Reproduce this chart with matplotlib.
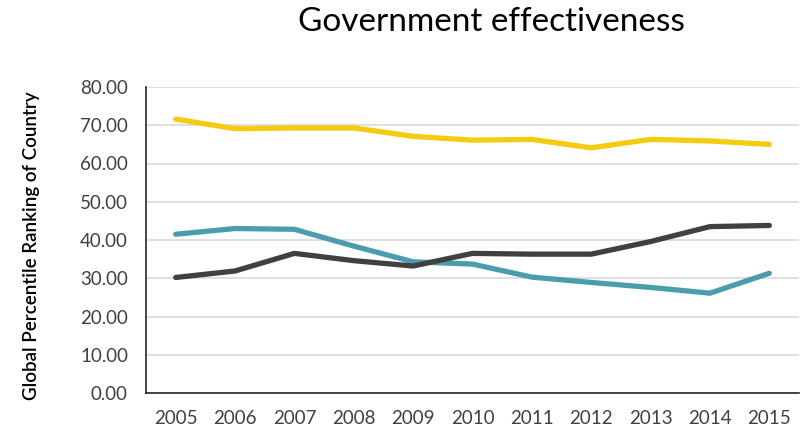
"""Government effectiveness percentile ranking, 2005-2015."""

import matplotlib.pyplot as plt

years = ["2005", "2006", "2007", "2008", "2009", "2010",
         "2011", "2012", "2013", "2014", "2015"]

# three countries
yellow_series = [71.6, 69.1, 69.3, 69.3, 67.1, 66.1, 66.3, 64.1, 66.3, 65.9, 65.0]
teal_series = [41.5, 43.0, 42.8, 38.4, 34.3, 33.7, 30.3, 28.9, 27.6, 26.1, 31.3]
dark_series = [30.2, 31.9, 36.5, 34.6, 33.2, 36.5, 36.3, 36.3, 39.6, 43.5, 43.8]

y_ticks = [0, 10, 20, 30, 40, 50, 60, 70, 80]

plt.rcParams["font.family"] = ["Lato", "DejaVu Sans"]

fig = plt.figure(figsize=(8, 4.28), dpi=100)
ax = fig.add_axes([146 / 800, 1 - 393 / 428, 653 / 800, 306 / 428])

x = range(len(years))
ax.plot(x, yellow_series, color="#F5CB0F", lw=3.8, solid_capstyle="round", solid_joinstyle="round")
ax.plot(x, teal_series, color="#4B9CAD", lw=3.8, solid_capstyle="round", solid_joinstyle="round")
ax.plot(x, dark_series, color="#404040", lw=3.8, solid_capstyle="round", solid_joinstyle="round")

ax.set_xlim(-0.5, len(years) - 0.5)
ax.set_ylim(0, 80)
ax.set_xticks(list(x))
ax.set_xticklabels(years)
ax.set_yticks(y_ticks)
ax.set_yticklabels([f"{v:.2f}" for v in y_ticks])
ax.tick_params(length=0, labelsize=13.5, colors="#404040")
ax.tick_params(axis="y", pad=13)
ax.tick_params(axis="x", pad=12)

ax.grid(axis="y", color="#D9D9D9", lw=1.2)
ax.set_axisbelow(True)
for side in ["top", "right"]:
    ax.spines[side].set_visible(False)
for side in ["left", "bottom"]:
    ax.spines[side].set_color("#262626")
    ax.spines[side].set_linewidth(1.2)

ax.set_ylabel("Global Percentile Ranking of Country", fontsize=13.5,
              fontweight="semibold", color="#000000")
ax.yaxis.set_label_coords(-106 / 653, 0.48)

fig.text(491 / 800, 1 - 22 / 428, "Government effectiveness", ha="center",
         va="center", fontsize=24, color="#000000")

fig.savefig("out.png", dpi=100)
